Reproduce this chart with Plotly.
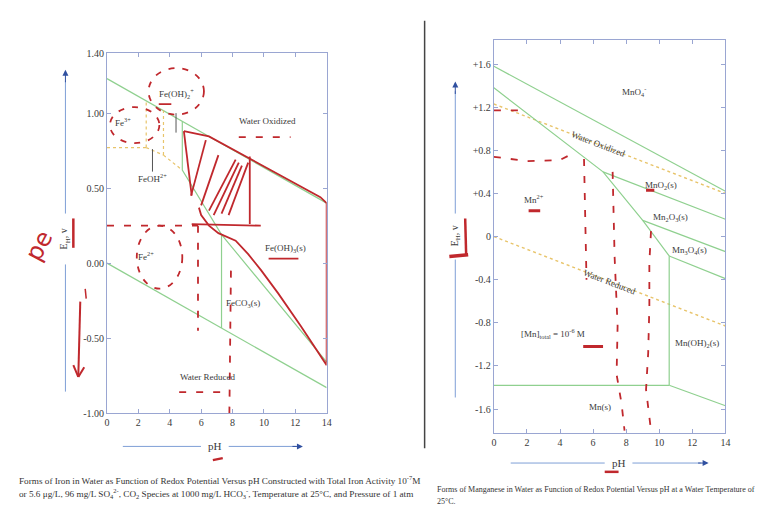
import plotly.graph_objects as go

W, H = 763, 508

# ---------------- Iron diagram data (pH, E_H) ----------------
fe_water_ox_ph = [0, 14]
fe_water_ox_e = [1.23, 0.40]
fe_water_red_ph = [0, 14]
fe_water_red_e = [0.0, -0.83]
fe_feoh3_ph = [4.8, 4.8, 7.3, 14]
fe_feoh3_e = [0.945, 0.62, 0.19, -0.66]
fe_feco3_ph = [7.3, 7.3]
fe_feco3_e = [0.19, -0.433]
fe_dotted = [
    ([0, 2.5], [0.77, 0.77]),
    ([2.5, 2.5], [0.77, 1.08]),
    ([2.5, 3.6], [0.77, 0.72]),
    ([3.6, 3.6], [0.72, 1.017]),
    ([3.6, 4.8], [0.72, 0.62]),
]
fe_pointers = [([4.4, 4.4], [1.0, 0.87]), ([2.9, 2.9], [0.76, 0.61])]
fe_labels = [
    ("Fe(OH)<sub>2</sub><sup>+</sup>", 4.4, 1.13),
    ("Fe<sup>3+</sup>", 1.0, 0.94),
    ("FeOH<sup>2+</sup>", 2.9, 0.57),
    ("Water Oxidized", 10.2, 0.95),
    ("Fe<sup>2+</sup>", 2.5, 0.05),
    ("Fe(OH)<sub>3</sub>(s)", 11.4, 0.10),
    ("FeCO<sub>3</sub>(s)", 8.7, -0.27),
    ("Water Reduced", 6.4, -0.76),
]
fe_yticks = [-1.0, -0.5, 0.0, 0.5, 1.0, 1.4]
fe_yticktext = ["-1.00", "-0.50", "0.00", "0.50", "1.00", "1.40"]
ph_ticks = [0, 2, 4, 6, 8, 10, 12, 14]

# ---------------- Manganese diagram data ----------------
mn_water_ox_ph = [0, 14]
mn_water_ox_e = [1.23, 0.40]
mn_water_red_ph = [0, 14]
mn_water_red_e = [0.0, -0.83]
mn_green = [
    ([0, 14], [1.58, 0.42]),
    ([0, 6.6, 9.0, 10.6, 10.6], [1.38, 0.60, 0.15, -0.18, -1.38]),
    ([0, 10.6], [-1.38, -1.38]),
    ([10.6, 14], [-1.38, -1.57]),
    ([6.6, 14], [0.60, 0.16]),
    ([9.0, 14], [0.15, -0.14]),
    ([10.6, 14], [-0.18, -0.39]),
]
mn_labels = [
    ("MnO<sub>4</sub><sup>-</sup>", 8.5, 1.35, 0),
    ("Water Oxidized", 6.3, 0.86, 21),
    ("MnO<sub>2</sub>(s)", 10.1, 0.47, 0),
    ("Mn<sup>2+</sup>", 2.4, 0.35, 0),
    ("Mn<sub>2</sub>O<sub>3</sub>(s)", 10.7, 0.18, 0),
    ("Mn<sub>3</sub>O<sub>4</sub>(s)", 11.8, -0.13, 0),
    ("Water Reduced", 7.0, -0.42, 21),
    ("[Mn]<sub>total</sub> = 10<sup>-6</sup> M", 3.6, -0.90, 0),
    ("Mn(OH)<sub>2</sub>(s)", 12.3, -0.99, 0),
    ("Mn(s)", 6.4, -1.58, 0),
]
mn_yticks = [-1.6, -1.2, -0.8, -0.4, 0.0, 0.4, 0.8, 1.2, 1.6]
mn_yticktext = ["-1.6", "-1.2", "-0.8", "-0.4", "0", "+0.4", "+0.8", "+1.2", "+1.6"]

# ---------------- Handwritten red marks (data coords) ----------------
fe_red_solid = [
    ([4.9, 6.5, 13.6, 14, 14, 12.36, 10.9, 9.84, 9.0, 8.2, 7.1, 6.5, 6.0, 5.86],
     [0.88, 0.845, 0.44, 0.40, -0.68, -0.42, -0.20, -0.05, 0.06, 0.15, 0.20, 0.25, 0.32, 0.37]),
    ([4.9, 5.4], [0.88, 0.45]),
    ([5.36, 6.3], [0.45, 0.82]),
    ([6.0, 7.1], [0.385, 0.72]),
    ([6.5, 8.2], [0.35, 0.69]),
    ([6.8, 8.4], [0.32, 0.67]),
    ([7.3, 8.6], [0.33, 0.65]),
    ([7.75, 9.0], [0.32, 0.67]),
    ([9.1, 9.1], [0.71, 0.26]),
    ([5.4, 9.8], [0.26, 0.25]),
    ([10.3, 12.2], [0.03, 0.03]),
    ([3.3, 4.1], [1.06, 1.06]),
]
fe_red_dashed = [
    ([0, 5.8], [0.25, 0.25]),
    ([5.8, 5.8], [0.25, -0.45]),
    ([7.9, 7.8], [-0.05, -1.0]),
    ([8.4, 11.7], [0.84, 0.84]),
    ([4.6, 7.8], [-0.86, -0.86]),
]
fe_red_ellipses = [
    (2.65, 0.99, 6.18, 1.30),
    (0.19, 0.80, 3.34, 1.04),
    (1.9, -0.17, 4.8, 0.25),
]
mn_red_dashed = [
    ([0, 2, 4, 4.5], [0.74, 0.70, 0.71, 0.75]),
    ([0, 1.7], [1.17, 1.17]),
    ([5.45, 5.6], [0.72, -0.40]),
    ([7.18, 7.3, 7.48, 7.42, 7.72, 7.9], [0.60, -0.19, -0.83, -1.28, -1.55, -1.80]),
    ([9.5, 9.4, 9.4, 9.33, 9.2, 9.5], [0.05, -0.24, -0.65, -1.08, -1.42, -1.80]),
]
mn_red_solid = [
    ([2.1, 2.8], [0.24, 0.24]),
    ([9.2, 9.7], [0.43, 0.43]),
    ([5.4, 6.6], [-1.02, -1.02]),
]

GREEN = "#8fd08f"
DOT = "#e8c46a"
RED = "#c0282d"
AXC = "#9aa6d2"
TXT = "#3a3a3a"
SERIF = "Liberation Serif"
RDASH = "7px,10px"

fig = go.Figure()


def line(xs, ys, color, width=1.2, dash=None, xa="x", ya="y"):
    fig.add_trace(go.Scatter(x=xs, y=ys, mode="lines", xaxis=xa, yaxis=ya,
                             line=dict(color=color, width=width, dash=dash),
                             hoverinfo="skip", showlegend=False))


# Iron
line(fe_water_ox_ph, fe_water_ox_e, GREEN)
line(fe_water_red_ph, fe_water_red_e, GREEN)
line(fe_feoh3_ph, fe_feoh3_e, GREEN)
line(fe_feco3_ph, fe_feco3_e, GREEN)
for xs, ys in fe_dotted:
    line(xs, ys, DOT, 1.2, "dot")
for xs, ys in fe_pointers:
    line(xs, ys, "#555555", 1.0)
for xs, ys in fe_red_solid:
    line(xs, ys, RED, 1.8)
for xs, ys in fe_red_dashed:
    line(xs, ys, RED, 1.8, RDASH)

# Manganese
line(mn_water_ox_ph, mn_water_ox_e, DOT, 1.4, "dot", "x2", "y2")
line(mn_water_red_ph, mn_water_red_e, DOT, 1.4, "dot", "x2", "y2")
for xs, ys in mn_green:
    line(xs, ys, GREEN, 1.2, None, "x2", "y2")
for xs, ys in mn_red_dashed:
    line(xs, ys, RED, 1.8, RDASH, "x2", "y2")
for xs, ys in mn_red_solid:
    line(xs, ys, RED, 3.0, None, "x2", "y2")

shapes = []
for x0, y0, x1, y1 in fe_red_ellipses:
    shapes.append(dict(type="circle", xref="x", yref="y", x0=x0, y0=y0, x1=x1, y1=y1,
                       line=dict(color=RED, width=1.8, dash="6px,8px")))


def px(x):
    return x / W


def py(y):
    return 1 - y / H


def pline(x0, y0, x1, y1, color, width=1.0):
    shapes.append(dict(type="line", xref="paper", yref="paper",
                       x0=px(x0), y0=py(y0), x1=px(x1), y1=py(y1),
                       line=dict(color=color, width=width)))


# separator
pline(418, 8, 418, 445, "#444444", 1.5)
# axis title arrow lines
pline(55, 70, 55, 205, "#7f9fd6")
pline(55, 257, 55, 387, "#7f9fd6")
pline(113, 443, 192, 443, "#7f9fd6")
pline(220, 443, 288, 443, "#7f9fd6")
pline(449, 80, 449, 205, "#7f9fd6")
pline(449, 252, 449, 393, "#7f9fd6")
pline(505, 460, 600, 460, "#7f9fd6")
pline(628, 460, 697, 460, "#7f9fd6")
# red handwriting outside plots
pline(63, 210, 63, 240, RED, 2.5)
pline(70, 295, 68, 372, RED, 2)
pline(68, 372, 63, 360, RED, 2)
pline(68, 372, 74, 362, RED, 2)
pline(75, 282, 76, 292, RED, 1.5)
pline(459, 210, 460, 248, RED, 2.5)
pline(443, 249, 462, 247, RED, 3.5)
pline(204, 457, 214, 455, RED, 2.5)
pline(600, 469, 614, 469, RED, 2.5)

annotations = []


def ptext(text, x, y, size=9, color=TXT, angle=0, bg=None, family=SERIF, xanchor="center"):
    d = dict(text=text, x=px(x), y=py(y), xref="paper", yref="paper", showarrow=False,
             font=dict(family=family, size=size, color=color), textangle=angle,
             xanchor=xanchor, yanchor="middle")
    if bg:
        d["bgcolor"] = bg
    annotations.append(d)


def arrowhead(x, y, dx, dy):
    annotations.append(dict(x=px(x), y=py(y), xref="paper", yref="paper", text="",
                            showarrow=True, ax=dx, ay=dy, arrowhead=2, arrowsize=1.2,
                            arrowwidth=1, arrowcolor="#3050a0"))


arrowhead(55, 58, 0, 14)
arrowhead(295, 443, -12, 0)
arrowhead(449, 70, 0, 14)
arrowhead(705, 460, -12, 0)

for t, x, y in fe_labels:
    annotations.append(dict(text=t, x=x, y=y, xref="x", yref="y", showarrow=False,
                            font=dict(family=SERIF, size=9, color=TXT)))
for t, x, y, a in mn_labels:
    annotations.append(dict(text=t, x=x, y=y, xref="x2", yref="y2", showarrow=False,
                            textangle=a, font=dict(family=SERIF, size=9, color=TXT)))

ptext("E<sub>H</sub>, v", 55, 231, 10, angle=-90)
ptext("pH", 206, 443, 11)
ptext("E<sub>H</sub>, v", 449, 228, 10, angle=-90)
ptext("pH", 614, 460, 11)
ptext("pe", 28, 238, 24, RED, -62, family="DejaVu Sans")

ptext("Forms of Iron in Water as Function of Redox Potential Versus pH Constructed with Total Iron Activity 10<sup>-7</sup>M",
      6, 477, 9.2, "#333", xanchor="left")
ptext("or 5.6 \u03bcg/L, 96 mg/L SO<sub>4</sub><sup>2-</sup>, CO<sub>2</sub> Species at 1000 mg/L HCO<sub>3</sub><sup>-</sup>, Temperature at 25\u00b0C, and Pressure of 1 atm",
      6, 491, 9.2, "#333", xanchor="left")
ptext("Forms of Manganese in Water as Function of Redox Potential Versus pH at a Water Temperature of",
      428, 487, 8.0, "#333", xanchor="left")
ptext("25\u00b0C.", 428, 499, 8.0, "#333", xanchor="left")

axis_common = dict(showline=True, linecolor=AXC, linewidth=1, mirror="ticks", ticks="inside",
                   ticklen=4, tickcolor=AXC, showgrid=False, zeroline=False,
                   tickfont=dict(family=SERIF, size=10, color=TXT))

fig.update_layout(
    width=W, height=H, margin=dict(l=0, r=0, t=0, b=0),
    paper_bgcolor="white", plot_bgcolor="white", showlegend=False,
    xaxis=dict(domain=[px(97), px(319)], range=[0, 14], tickvals=ph_ticks, anchor="y", **axis_common),
    yaxis=dict(domain=[py(409), py(41)], range=[-1.0, 1.4], tickvals=fe_yticks,
               ticktext=fe_yticktext, anchor="x", **axis_common),
    xaxis2=dict(domain=[px(488), px(722)], range=[0, 14], tickvals=ph_ticks, anchor="y2", **axis_common),
    yaxis2=dict(domain=[py(429), py(28)], range=[-1.82, 1.82], tickvals=mn_yticks,
                ticktext=mn_yticktext, anchor="x2", **axis_common),
    shapes=shapes, annotations=annotations,
)

fig.write_html("out.html")
